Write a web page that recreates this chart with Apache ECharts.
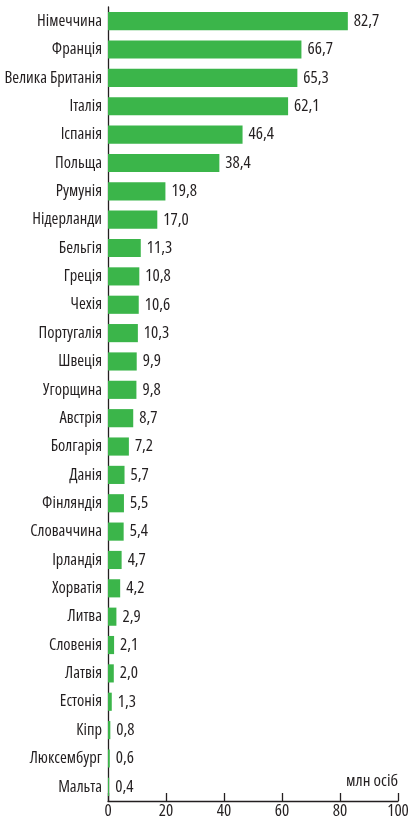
<!DOCTYPE html>
<html><head><meta charset="utf-8">
<script src="https://cdn.jsdelivr.net/npm/echarts@6/dist/echarts.min.js"></script>
<style>html,body{margin:0;padding:0;background:#fff}#c{width:411px;height:819px}</style>
</head><body><div id="c"></div>
<script>
const categories = ["Німеччина","Франція","Велика Британія","Італія","Іспанія","Польща","Румунія","Нідерланди","Бельгія","Греція","Чехія","Португалія","Швеція","Угорщина","Австрія","Болгарія","Данія","Фінляндія","Словаччина","Ірландія","Хорватія","Литва","Словенія","Латвія","Естонія","Кіпр","Люксембург","Мальта"];
const values = [82.7,66.7,65.3,62.1,46.4,38.4,19.8,17.0,11.3,10.8,10.6,10.3,9.9,9.8,8.7,7.2,5.7,5.5,5.4,4.7,4.2,2.9,2.1,2.0,1.3,0.8,0.6,0.4];
const xTicks = [0,20,40,60,80,100];
const unitLabel = "млн осіб";
const FONT = "'Open Sans'";
const FS = 'condensed';
const FW = 500;
const TXT = '#231f20';
const chart = echarts.init(document.getElementById('c'));
chart.setOption({
  animation:false,
  textStyle:{fontFamily:FONT,fontStyle:FS,fontWeight:FW,color:TXT},
  grid:{left:108,right:13,top:7,bottom:18,containLabel:false,outerBoundsMode:'none'},
  xAxis:{type:'value',min:xTicks[0],max:xTicks[xTicks.length-1],interval:20,
    name:unitLabel,nameLocation:'end',nameGap:0,
    nameTextStyle:{fontFamily:FONT,fontStyle:FS,fontWeight:FW,fontSize:17,color:TXT,align:'right',verticalAlign:'bottom',padding:[0,0,11,0]},
    axisLine:{show:true,lineStyle:{color:TXT,width:1.3}},
    axisTick:{show:true,inside:true,length:8,lineStyle:{color:TXT,width:1.3}},
    axisLabel:{fontFamily:FONT,fontStyle:FS,fontWeight:FW,fontSize:17,color:TXT,margin:2},
    splitLine:{show:false}},
  yAxis:{type:'category',data:categories,inverse:true,
    axisLine:{show:true,lineStyle:{color:TXT,width:1.3}},
    axisTick:{show:false},
    axisLabel:{fontFamily:FONT,fontStyle:FS,fontWeight:FW,fontSize:16.5,color:TXT,margin:6}},
  series:[{type:'bar',data:values,barCategoryGap:'36%',
    itemStyle:{color:'#3bb54a'},
    label:{show:true,position:'right',distance:6,fontFamily:FONT,fontStyle:FS,fontWeight:FW,fontSize:17,color:TXT,
      formatter:p=>p.value.toFixed(1).replace('.',',')}}]
});
</script></body></html>
